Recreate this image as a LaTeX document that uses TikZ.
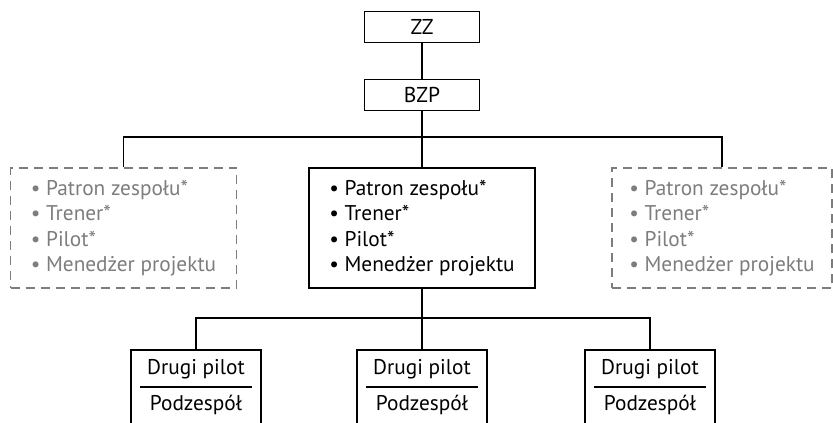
\documentclass[tikz,border=0pt]{standalone}
\usepackage{fontspec}
\setmainfont{PT Sans}
\usetikzlibrary{positioning}

\definecolor{greytext}{RGB}{125,125,125}

\tikzset{
  link/.style={line width=1.6pt},
  box/.style={draw, line width=1.6pt, minimum width=115pt, minimum height=31pt, inner sep=0pt, font=\fontsize{21.5}{24}\selectfont},
  rolebox/.style={draw, line width=1.6pt, minimum width=226pt, minimum height=120pt, align=left, font=\fontsize{21.3}{25.3}\selectfont},
  ghostbox/.style={rolebox, draw=greytext, text=greytext, line width=1.4pt, dash pattern=on 9pt off 6pt},
  subbox/.style={draw, line width=1.6pt, minimum width=130pt, minimum height=90pt, anchor=north},
  subtext/.style={font=\fontsize{21.3}{24}\selectfont, inner sep=0pt},
}

\begin{document}
\begin{tikzpicture}[x=1pt, y=-1pt]
\clip (0,0) rectangle (833,423);

%%%%%% Top %%%%%%%

\node (zz) at (422,27) [box] {ZZ};
\node (bzp) at (422,95) [box] {BZP};

\draw[link] (zz) -- (bzp);

%%%%%% Roles %%%%%%%

\node (roleL) at (123.5,228) [ghostbox] {\textbullet~Patron zespołu*\\ \textbullet~Trener*\\ \textbullet~Pilot*\\ \textbullet~Menedżer projektu};
\node (core) at (422,228) [rolebox] {\textbullet~Patron zespołu*\\ \textbullet~Trener*\\ \textbullet~Pilot*\\ \textbullet~Menedżer projektu};
\node (roleR) at (722,228) [ghostbox, minimum width=220pt] {\textbullet~Patron zespołu*\\ \textbullet~Trener*\\ \textbullet~Pilot*\\ \textbullet~Menedżer projektu};

\coordinate (split1) at (422,137);
\draw[link] (bzp) -- (core);
\draw[link] (roleL.north) |- (split1) -| (roleR.north);

%%%%%% Subteams %%%%%%%

\node (sub1) at (196,349) [subbox] {};
\node (sub2) at (422,349) [subbox] {};
\node (sub3) at (650,349) [subbox] {};

\coordinate (split2) at (422,318);
\draw[link] (core) -- (sub2);
\draw[link] (sub1.north) |- (split2) -| (sub3.north);

\node (pilot1) at (196,369) [subtext] {Drugi pilot};
\node (team1) at (196,405) [subtext] {Podzespół};
\draw[link] ([shift={(10,38)}]sub1.north west) -- ([shift={(-10,38)}]sub1.north east);

\node (pilot2) at (422,369) [subtext] {Drugi pilot};
\node (team2) at (422,405) [subtext] {Podzespół};
\draw[link] ([shift={(10,38)}]sub2.north west) -- ([shift={(-10,38)}]sub2.north east);

\node (pilot3) at (650,369) [subtext] {Drugi pilot};
\node (team3) at (650,405) [subtext] {Podzespół};
\draw[link] ([shift={(10,38)}]sub3.north west) -- ([shift={(-10,38)}]sub3.north east);

\end{tikzpicture}
\end{document}
